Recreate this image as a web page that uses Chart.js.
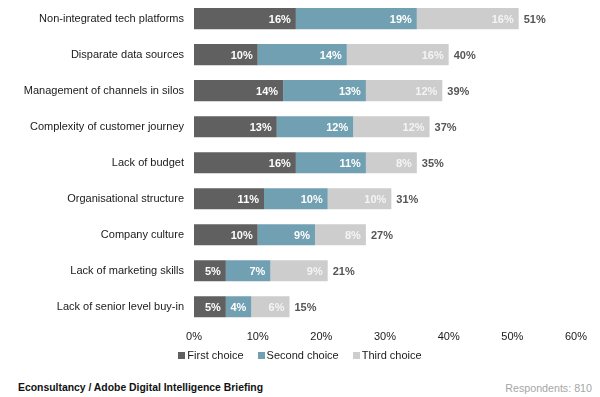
<!DOCTYPE html>
<html>
<head>
<meta charset="utf-8">
<script src="https://cdn.jsdelivr.net/npm/chart.js@4"></script>
<style>
  html, body { margin: 0; padding: 0; background: #fff; }
  body { width: 600px; height: 397px; position: relative; overflow: hidden; font-family: "Liberation Sans", Arial, sans-serif; }
  #wrap { position: absolute; left: 0; top: -16px; width: 600px; height: 366px; }
  #legend { position: absolute; left: 0; top: 348px; width: 600px; text-align: center; font-size: 11px; color: #1a1a1a; line-height: 14px; }
  #legend span.item { display: inline-block; margin: 0 7px; }
  #legend span.box { display: inline-block; width: 7px; height: 7px; margin-right: 2px; vertical-align: 0px; }
  .foot { position: absolute; top: 382px; }
  #source { left: 18px; font-weight: bold; color: #111; font-size: 10.4px; }
  #resp { right: 8px; color: #a6a6a6; font-size: 10.7px; }
</style>
</head>
<body>
<div id="wrap"><canvas id="chart"></canvas></div>
<div id="legend"></div>
<div class="foot" id="source">Econsultancy / Adobe Digital Intelligence Briefing</div>
<div class="foot" id="resp">Respondents: 810</div>
<script>
const categories = [
  "Non-integrated tech platforms",
  "Disparate data sources",
  "Management of channels in silos",
  "Complexity of customer journey",
  "Lack of budget",
  "Organisational structure",
  "Company culture",
  "Lack of marketing skills",
  "Lack of senior level buy-in",
];
const seriesNames = ["First choice", "Second choice", "Third choice"];
const firstChoice = [16, 10, 14, 13, 16, 11, 10, 5, 5];
const secondChoice = [19, 14, 13, 12, 11, 10, 9, 7, 4];
const thirdChoice = [16, 16, 12, 12, 8, 10, 8, 9, 6];
const totals = [51, 40, 39, 37, 35, 31, 27, 21, 15];
const xTicks = [0, 10, 20, 30, 40, 50, 60];
const colors = ["#606060", "#70a0b2", "#cdcdcd"];

const FONT = "'Liberation Sans', Arial, sans-serif";

// labels inside each segment and total after the bar
const barLabels = {
  id: "barLabels",
  afterDatasetsDraw(chart) {
    const ctx = chart.ctx;
    ctx.save();
    ctx.font = "bold 11px " + FONT;
    ctx.textBaseline = "middle";
    chart.data.datasets.forEach((ds, di) => {
      const meta = chart.getDatasetMeta(di);
      meta.data.forEach((bar, i) => {
        ctx.fillStyle = di === 2 ? "#f4f4f4" : "#ffffff";
        ctx.textAlign = "right";
        ctx.fillText(ds.data[i] + "%", bar.x - 5, bar.y + 1);
      });
    });
    const last = chart.getDatasetMeta(2);
    ctx.fillStyle = "#555555";
    ctx.textAlign = "left";
    last.data.forEach((bar, i) => {
      ctx.fillText(totals[i] + "%", bar.x + 5, bar.y + 1);
    });
    ctx.restore();
  },
};

const ctx = document.getElementById("chart").getContext("2d");
const chart = new Chart(ctx, {
  type: "bar",
  data: {
    labels: categories,
    datasets: [
      { label: seriesNames[0], data: firstChoice, backgroundColor: colors[0] },
      { label: seriesNames[1], data: secondChoice, backgroundColor: colors[1] },
      { label: seriesNames[2], data: thirdChoice, backgroundColor: colors[2] },
    ],
  },
  options: {
    indexAxis: "y",
    responsive: true,
    maintainAspectRatio: false,
    animation: false,
    layout: { padding: { top: 0, right: 24, bottom: 0, left: 0 } },
    datasets: {
      bar: { categoryPercentage: 1, barPercentage: 0.585, borderWidth: 0 },
    },
    scales: {
      x: {
        stacked: true,
        min: 0,
        max: 60,
        afterBuildTicks: (axis) => { axis.ticks = xTicks.map((v) => ({ value: v })); },
        grid: { display: false, drawTicks: false },
        border: { display: false },
        ticks: {
          padding: 6,
          color: "#1a1a1a",
          font: { family: FONT, size: 11 },
          callback: (v) => v + "%",
        },
      },
      y: {
        stacked: true,
        grid: { display: false, drawTicks: false },
        border: { display: false },
        afterFit: (axis) => { axis.width = 194; },
        ticks: {
          padding: 10,
          color: "#1a1a1a",
          font: { family: FONT, size: 11 },
        },
      },
    },
    plugins: {
      tooltip: { enabled: false },
      legend: { display: false },
    },
  },
  plugins: [barLabels],
});

// html legend from the chart's datasets
const legendEl = document.getElementById("legend");
chart.data.datasets.forEach((ds) => {
  const item = document.createElement("span");
  item.className = "item";
  item.innerHTML = `<span class="box" style="background:${ds.backgroundColor}"></span>${ds.label}`;
  legendEl.appendChild(item);
});
</script>
</body>
</html>
